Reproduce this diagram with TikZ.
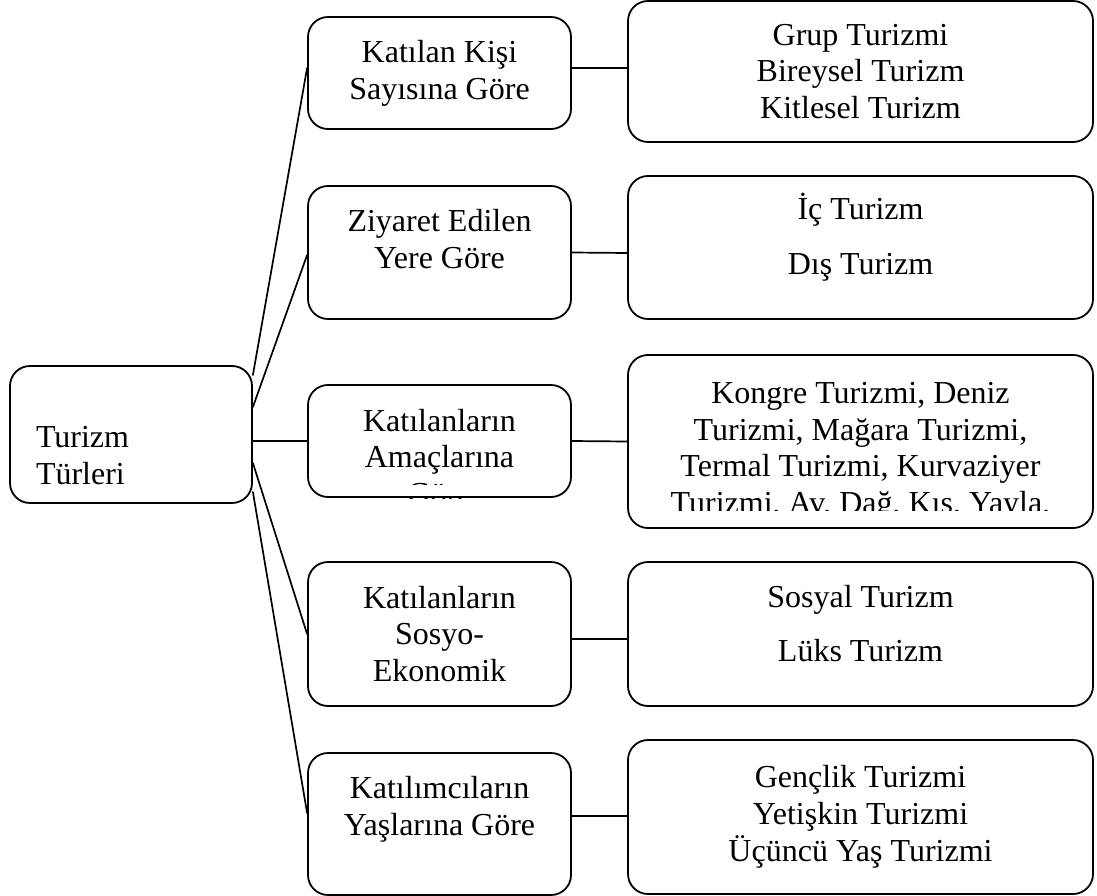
\documentclass[tikz,border=0pt]{standalone}
\usepackage{fontspec}
\setmainfont{Liberation Serif}

\begin{document}
\begin{tikzpicture}[line cap=round,line join=round,x=1pt,y=-1pt,
    kutu/.style={draw,line width=1.8pt,rounded corners=20pt,align=center,inner sep=0pt,
        font=\fontsize{32}{36.8}\selectfont},
    orta/.style={kutu,minimum width=263pt},
    sag/.style={kutu,minimum width=465pt},
    bag/.style={line width=1.7pt}]
    \useasboundingbox (0,0) rectangle (1097,896);
    % kök
    \node[kutu,minimum width=242pt,minimum height=137pt,text width=190pt,align=left] (tur) at (131,434.5) {\rule{0pt}{64pt}Turizm\\Türleri};
    % orta sütun
    \node[orta,minimum height=112pt] (kisi) at (439.5,73) {Katılan Kişi\\Sayısına Göre};
    \node[orta,minimum height=133pt] (yer) at (439.5,252.5) {Ziyaret Edilen\\Yere Göre\rule[-28pt]{0pt}{28pt}};
    \node[orta,minimum height=144pt] (sosyo) at (439.5,634) {Katılanların\\Sosyo-\\Ekonomik};
    \node[orta,minimum height=142pt] (yas) at (439.5,824) {Katılımcıların\\Yaşlarına Göre\rule[-37pt]{0pt}{37pt}};
    % sağ sütun
    \node[sag,minimum height=141pt] (grup) at (860.5,71.5) {Grup Turizmi\\Bireysel Turizm\\Kitlesel Turizm};
    \node[sag,minimum height=143pt] (ic) at (860.5,247.5) {İç Turizm\\[18.2pt]Dış Turizm\rule[-27pt]{0pt}{27pt}};
    \node[sag,minimum height=144pt] (sosyal) at (860.5,634) {Sosyal Turizm\\[17.2pt]Lüks Turizm\rule[-22pt]{0pt}{22pt}};
    \node[sag,minimum height=154pt] (genc) at (860.5,817) {Gençlik Turizmi\\Yetişkin Turizmi\\Üçüncü Yaş Turizmi};
    % taşan yazılar kesik
    \begin{scope}[even odd rule]
        \clip (0,0) rectangle (1097,896) (330,484.5) rectangle (550,495.8) (330,498.7) rectangle (550,530) (650,510) rectangle (1070,526);
        \node[orta,minimum height=112pt,inner ysep=-8pt] (amac) at (439.5,441) {\rule{0pt}{54pt}Katılanların\\Amaçlarına\\Göre};
        \node[sag,minimum height=173pt] (kongre) at (860.5,441.5) {\rule{0pt}{41pt}Kongre Turizmi, Deniz\\Turizmi, Mağara Turizmi,\\Termal Turizmi, Kurvaziyer\\Turizmi, Av, Dağ, Kış, Yayla,};
    \end{scope}
    % bağlantılar
    \draw[bag] ([yshift=59.5pt]tur.east) -- ([yshift=5pt]kisi.west);
    \draw[bag] ([yshift=27.5pt]tur.east) -- ([yshift=-2.5pt]yer.west);
    \draw[bag] (tur.east |- amac.west) -- (amac.west);
    \draw[bag] ([yshift=-28.5pt]tur.east) -- (sosyo.west);
    \draw[bag] ([yshift=-57.5pt]tur.east) -- ([yshift=11pt]yas.west);
    \draw[bag] ([yshift=5pt]kisi.east) -- ([yshift=3.5pt]grup.west);
    \draw[bag] (yer.east) -- ([yshift=-5.5pt]ic.west);
    \draw[bag] (amac.east) -- (kongre.west);
    \draw[bag] ([yshift=-5pt]sosyo.east) -- ([yshift=-5pt]sosyal.west);
    \draw[bag] ([yshift=8pt]yas.east) -- ([yshift=1pt]genc.west);
\end{tikzpicture}
\end{document}
